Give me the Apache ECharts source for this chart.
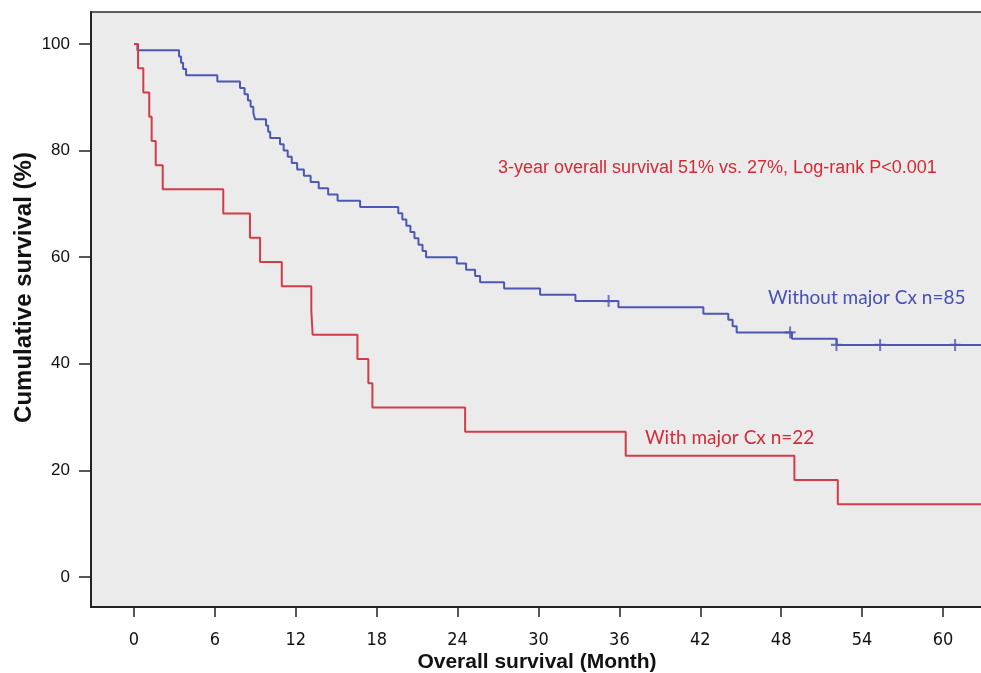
<!DOCTYPE html>
<html>
<head>
<meta charset="utf-8">
<script src="https://cdn.jsdelivr.net/npm/echarts@6/dist/echarts.min.js"></script>
<style>
html,body{margin:0;padding:0;background:#fff;}
#chart{width:981px;height:673px;}
</style>
</head>
<body>
<div id="chart"></div>
<script>
// ---- Data ----
const blueTimes = [0, 0.25, 3.34, 3.49, 3.64, 3.86, 6.18, 7.86, 8.2, 8.45, 8.65, 8.85, 8.98, 9.79, 9.95, 10.1,
  10.83, 11.1, 11.4, 11.7, 12.1, 12.6, 13.1, 13.7, 14.4, 15.1, 16.77, 19.6, 19.9, 20.2, 20.5, 20.8, 21.1, 21.4,
  21.66, 23.94, 24.63, 25.3, 25.67, 27.45, 30.12, 32.74, 35.93, 42.23, 44.08, 44.4, 44.7, 48.8, 52.12, 63];
const blueSurv = [100, 98.82, 97.65, 96.47, 95.29, 94.12, 92.94, 91.76, 90.59, 89.41, 88.24, 87.06, 85.88, 84.71, 83.53, 82.35,
  81.18, 80.0, 78.82, 77.65, 76.47, 75.29, 74.12, 72.94, 71.76, 70.59, 69.41, 68.24, 67.06, 65.88, 64.71, 63.53, 62.35, 61.18,
  60.0, 58.82, 57.65, 56.47, 55.29, 54.12, 52.94, 51.76, 50.59, 49.41, 48.24, 47.06, 45.88, 44.71, 43.53, 43.53];
const blueCensorTimes = [35.2, 48.66, 52.1, 55.34, 60.9];
const blueCensorSurv = [51.76, 45.88, 43.53, 43.53, 43.53];

const redTimes = [0, 0.3, 0.69, 1.13, 1.31, 1.61, 2.13, 6.62, 8.6, 9.35, 10.96, 13.15, 13.25, 16.57, 17.38, 17.68,
  24.56, 36.47, 48.98, 52.2, 63];
const redSurv = [100, 95.45, 90.91, 86.36, 81.82, 77.27, 72.73, 68.18, 63.64, 59.09, 54.55, 50.0, 45.45, 40.91, 36.36, 31.82,
  27.27, 22.73, 18.18, 13.64, 13.64];

const xTicks = [0, 6, 12, 18, 24, 30, 36, 42, 48, 54, 60];
const yTicks = [0, 20, 40, 60, 80, 100];

const xTitle = 'Overall survival (Month)';
const yTitle = 'Cumulative survival (%)';
const noteText = '3-year overall survival 51% vs. 27%, Log-rank P<0.001';
const blueLabel = 'Without major Cx n=85';
const redLabel = 'With major Cx n=22';

// ---- Build ----
const zip = (a, b) => a.map((v, i) => [v, b[i]]);
const BLUE = '#4d58b3';
const RED = '#d23c48';
const plusPath = 'path://M-1.1,-6H1.1V-1.1H6V1.1H1.1V6H-1.1V1.1H-6V-1.1H-1.1Z';

const chart = echarts.init(document.getElementById('chart'), null, {renderer: 'canvas'});
chart.setOption({
  backgroundColor: '#ffffff',
  animation: false,
  grid: {
    left: 91, top: 12, right: -2, bottom: 66,
    outerBoundsMode: 'none', containLabel: false,
    show: true, backgroundColor: '#ebebeb', borderColor: '#2a2a2a', borderWidth: 1.5
  },
  xAxis: {
    type: 'value', min: -3.19, max: 62.97,
    axisLine: {show: true, onZero: false, lineStyle: {color: '#222', width: 2}},
    axisTick: {show: true, customValues: xTicks, length: 10, lineStyle: {color: '#222', width: 1.5}},
    axisLabel: {customValues: xTicks, margin: 24, color: '#111', fontFamily: '"DejaVu Sans Condensed", "Liberation Sans", Arial, sans-serif', fontSize: 18},
    splitLine: {show: false},
    name: xTitle, nameLocation: 'middle', nameGap: 45, nameMoveOverlap: false,
    nameTextStyle: {fontFamily: 'Liberation Sans, Arial, sans-serif', fontWeight: 'bold', fontSize: 21, color: '#111'}
  },
  yAxis: {
    type: 'value', min: -5.63, max: 106,
    axisLine: {show: true, onZero: false, lineStyle: {color: '#222', width: 2}},
    axisTick: {show: true, customValues: yTicks, length: 12, lineStyle: {color: '#222', width: 1.5}},
    axisLabel: {customValues: yTicks, margin: 21, color: '#111', fontFamily: 'Liberation Sans, Arial, sans-serif', fontSize: 17},
    splitLine: {show: false},
    name: yTitle, nameLocation: 'middle', nameGap: 55, nameMoveOverlap: false,
    nameTextStyle: {fontFamily: 'Liberation Sans, Arial, sans-serif', fontWeight: 'bold', fontSize: 24, color: '#111', padding: [0, 0, 0, 44]}
  },
  series: [
    {
      type: 'line', name: blueLabel, step: 'end', data: zip(blueTimes, blueSurv),
      showSymbol: false, lineStyle: {color: BLUE, width: 2}, clip: true, z: 2
    },
    {
      type: 'scatter', name: blueLabel + ' censored', data: zip(blueCensorTimes, blueCensorSurv),
      symbol: plusPath, symbolSize: [11, 12], itemStyle: {color: BLUE}, z: 3
    },
    {
      type: 'line', name: redLabel, step: 'end', data: zip(redTimes, redSurv),
      showSymbol: false, lineStyle: {color: RED, width: 2}, clip: true, z: 4
    }
  ],
  graphic: [
    {type: 'text', left: 498, top: 159, style: {text: noteText, fill: '#d42a36', font: '18px "Liberation Sans", Arial, sans-serif'}},
    {type: 'text', left: 768, top: 288, style: {text: blueLabel, fill: '#4650b5', font: '19px Lato, "Open Sans", sans-serif'}},
    {type: 'text', left: 645, top: 428, style: {text: redLabel, fill: '#d42a36', font: '19px Lato, "Open Sans", sans-serif'}}
  ]
});
</script>
</body>
</html>
